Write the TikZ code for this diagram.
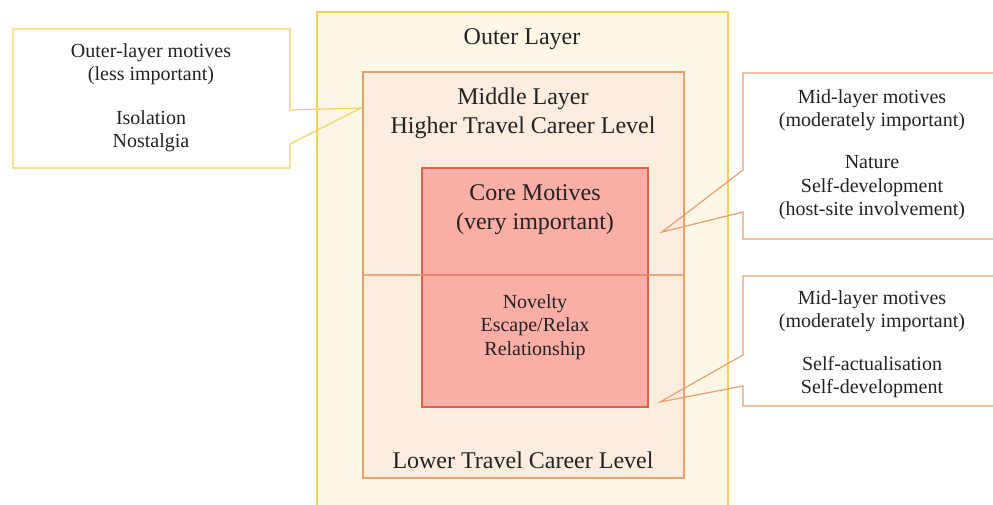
\documentclass[tikz,border=0pt]{standalone}
\usepackage{fontspec}
\setmainfont{Liberation Serif}
\definecolor{outerfill}{HTML}{FFF7E6}
\definecolor{outerline}{HTML}{F4D260}
\definecolor{midfill}{HTML}{FDEDDF}
\definecolor{midline}{HTML}{E9A06C}
\definecolor{corefill}{HTML}{FBAFA6}
\definecolor{coreline}{HTML}{E5604A}
\definecolor{txt}{HTML}{222222}
\begin{document}
\begin{tikzpicture}[x=1pt,y=-1pt,
  layer/.style={line width=1.2pt},
  bigtext/.style={font=\fontsize{24}{29}\selectfont, text=txt, align=center, inner sep=0pt},
  smalltext/.style={font=\fontsize{20}{23.5}\selectfont, text=txt, align=center, inner sep=0pt},
  callout/.style={line width=1.2pt, line join=miter}]
\useasboundingbox (0,0) rectangle (993,504);
\fill[white] (0,0) rectangle (993,504);

% nested layers
\draw[layer, draw=outerline, fill=outerfill] (317,12) rectangle (728,512);
\draw[layer, draw=midline, fill=midfill] (363,72) rectangle (684,478);
\draw[layer, draw=coreline, fill=corefill] (422,168) rectangle (648,407);
% divider between the higher and lower career levels
\draw[line width=1.2pt, midline, opacity=0.85] (363,275) -- (684,275);
\draw[line width=1.2pt, coreline, opacity=0.35] (422,275) -- (648,275);

% layer labels
\node[bigtext] (outer) at (522,39) {Outer Layer};
\node[bigtext] (middle) at (523,113) {Middle Layer\\Higher Travel Career Level};
\node[bigtext] (core) at (535,210) {Core Motives\\(very important)};
\node[smalltext] (corelist) at (535,327) {Novelty\\Escape/Relax\\Relationship};
\node[bigtext] (lower) at (523,460) {Lower Travel Career Level};

% callout pointer tips
\coordinate (tipL) at (361,108);
\coordinate (tipR1) at (662,232);
\coordinate (tipR2) at (660,402);

% outer-layer callout
\draw[callout, outerline] (13,29) -- (290,29) -- (290,110) -- (tipL) -- (290,144) -- (290,168) -- (13,168) -- cycle;
\node[smalltext] (outhead) at (151,64) {Outer-layer motives\\(less important)};
\node[smalltext] (outlist) at (151,131) {Isolation\\Nostalgia};

% mid-layer callouts
\draw[callout, midline] (1000,73) -- (743,73) -- (743,170) -- (tipR1) -- (743,212) -- (743,239) -- (1000,239);
\node[smalltext] (mid1head) at (872,110) {Mid-layer motives\\(moderately important)};
\node[smalltext] (mid1list) at (872,188) {Nature\\Self-development\\(host-site involvement)};

\draw[callout, midline] (1000,276) -- (743,276) -- (743,355) -- (tipR2) -- (743,386) -- (743,406) -- (1000,406);
\node[smalltext] (mid2head) at (872,311) {Mid-layer motives\\(moderately important)};
\node[smalltext] (mid2list) at (872,377) {Self-actualisation\\Self-development};
\end{tikzpicture}
\end{document}
